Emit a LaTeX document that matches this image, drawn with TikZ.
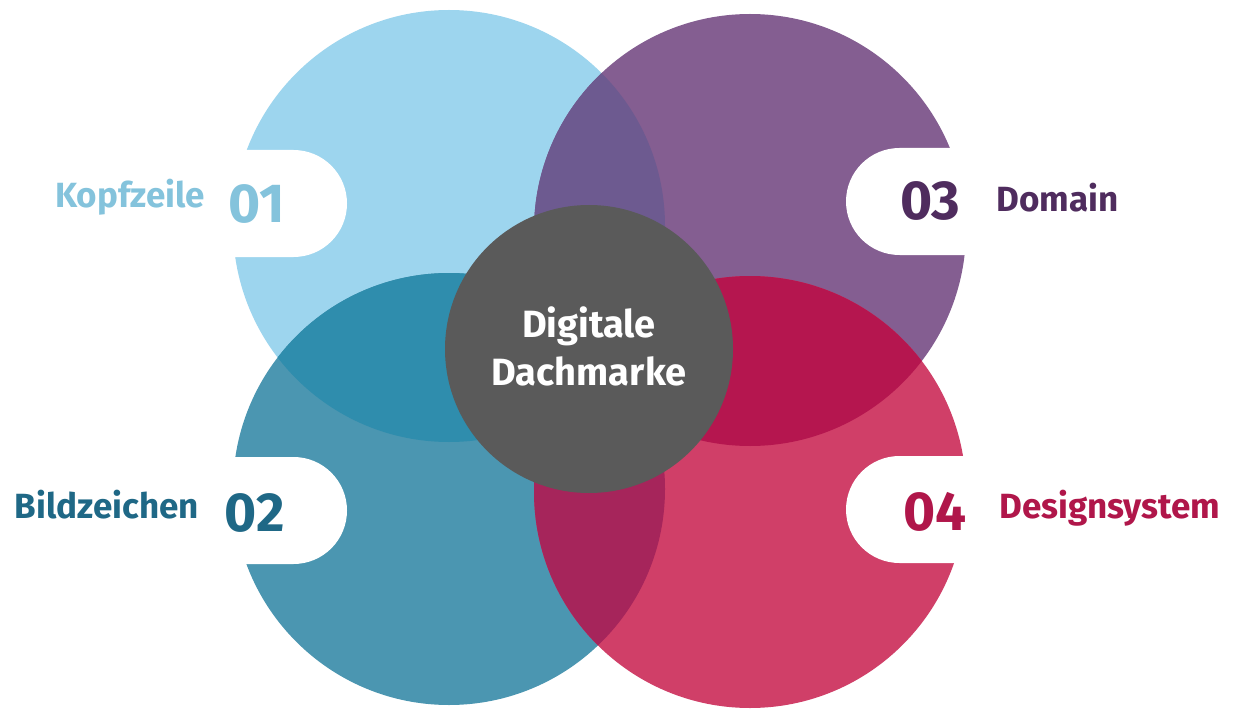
\documentclass[tikz,border=0pt]{standalone}
\usepackage{fontspec}
\setmainfont{Fira Sans}
\definecolor{cLightBlue}{HTML}{9DD5EE}
\definecolor{cPurple}{HTML}{845E91}
\definecolor{cTeal}{HTML}{4B96B1}
\definecolor{cCrimson}{HTML}{D03F68}
\definecolor{cLBxP}{HTML}{6D5A90}
\definecolor{cLBxT}{HTML}{2F8DAD}
\definecolor{cPxC}{HTML}{B5164F}
\definecolor{cTxC}{HTML}{A6255B}
\definecolor{cCore}{HTML}{5A5A5A}
\definecolor{tLightBlue}{HTML}{84C3DC}
\definecolor{tPurple}{HTML}{4F2C5E}
\definecolor{tTeal}{HTML}{1F6886}
\definecolor{tCrimson}{HTML}{B0164A}
\tikzset{
  lbl/.style={inner sep=0pt, font=\bfseries\fontsize{35}{40}\selectfont},
  num/.style={inner sep=0pt, font=\bfseries\fontsize{55}{60}\selectfont},
  coretext/.style={inner sep=0pt, text=white, font=\bfseries\fontsize{38}{44}\selectfont},
  tab/.style={fill=white, rounded corners=53.5pt},
}
\begin{document}
\begin{tikzpicture}[x=1pt,y=-1pt]
\useasboundingbox[fill=white] (0,0) rectangle (1233,711);
\coordinate (LB) at (449,226);
\coordinate (P)  at (750,230);
\coordinate (T)  at (449,489);
\coordinate (C)  at (750,492);
% base circles
\fill[cLightBlue] (LB) circle[radius=216];
\fill[cPurple] (P) circle[radius=216];
\fill[cTeal] (T) circle[radius=216];
\fill[cCrimson] (C) circle[radius=216];
% overlaps
\begin{scope}\clip (LB) circle[radius=216]; \fill[cLBxP] (P) circle[radius=216];\end{scope}
\begin{scope}\clip (LB) circle[radius=216]; \fill[cLBxT] (T) circle[radius=216];\end{scope}
\begin{scope}\clip (P) circle[radius=216]; \fill[cPxC] (C) circle[radius=216];\end{scope}
\begin{scope}\clip (T) circle[radius=216]; \fill[cTxC] (C) circle[radius=216];\end{scope}
% centre
\node[circle, fill=cCore, minimum size=288pt, inner sep=0pt] (core) at (589,349) {};
\node[coretext, anchor=base] (core1) at (589,337) {Digitale};
\node[coretext, anchor=base] (core2) at (589,385) {Dachmarke};
% tabs
\fill[tab] (-120,150) rectangle (347,257);
\fill[tab] (-120,457) rectangle (347,564);
\fill[tab] (846,148) rectangle (1350,255);
\fill[tab] (846,456) rectangle (1350,563);
% labels
\node[lbl, text=tLightBlue, anchor=base east] (kopf) at (205,208) {Kopfzeile};
\node[num, text=tLightBlue, anchor=base east] (n01) at (285,223) {01};
\node[lbl, text=tTeal, anchor=base east] (bild) at (199,518) {Bildzeichen};
\node[num, text=tTeal, anchor=base east] (n02) at (285,531) {02};
\node[num, text=tPurple, anchor=base west] (n03) at (900,220) {03};
\node[lbl, text=tPurple, anchor=base west] (dom) at (996,212) {Domain};
\node[num, text=tCrimson, anchor=base west] (n04) at (903,530) {04};
\node[lbl, text=tCrimson, anchor=base west] (des) at (999,518) {Designsystem};
\end{tikzpicture}
\end{document}
